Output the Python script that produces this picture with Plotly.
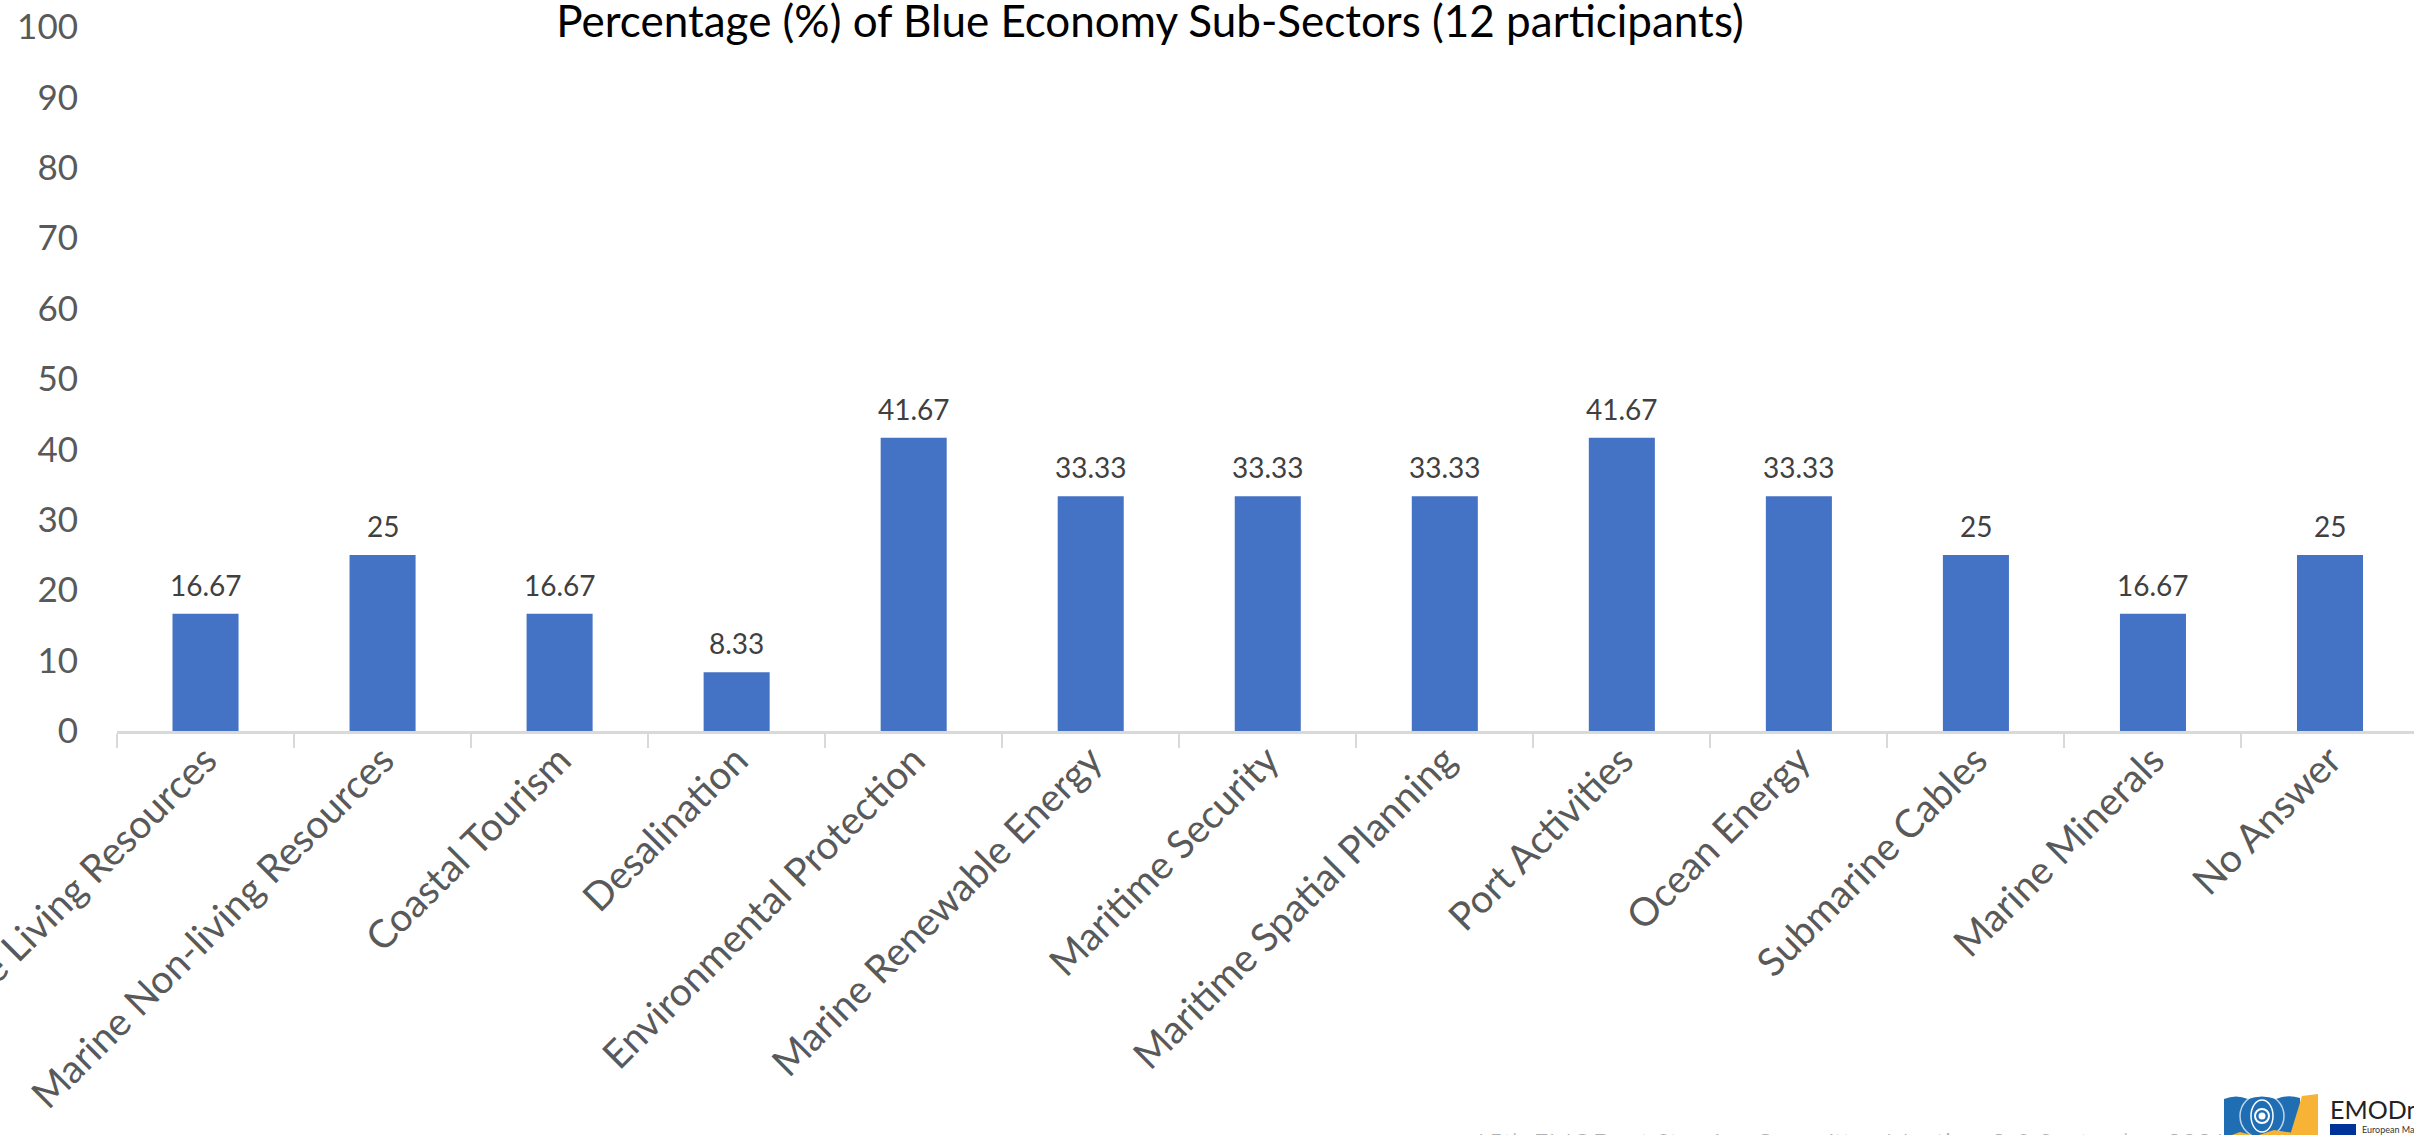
import base64
import plotly.graph_objects as go

# ---- data ----
categories = [
    "Marine Living Resources", "Marine Non-living Resources", "Coastal Tourism",
    "Desalination", "Environmental Protection", "Marine Renewable Energy",
    "Maritime Security", "Maritime Spatial Planning", "Port Activities",
    "Ocean Energy", "Submarine Cables", "Marine Minerals", "No Answer",
]
percentages = [16.67, 25, 16.67, 8.33, 41.67, 33.33, 33.33, 33.33, 41.67, 33.33, 25, 16.67, 25]
y_ticks = [0, 10, 20, 30, 40, 50, 60, 70, 80, 90, 100]
title_text = "Percentage (%) of Blue Economy Sub-Sectors (12 participants)"
footer_text = "15th EMODnet Steering Committee Meeting, 8-9 September 2021"

W, H = 2414, 1135
ML, MR, MT, MB = 117, 0, 27, 404
PW, PH = W - ML - MR, H - MT - MB


def px_x(px):
    return (px - ML) / PW


def px_y(py):
    return (H - MB - py) / PH


FONT = "Lato, 'Open Sans', sans-serif"
GREY = "#595959"

fig = go.Figure()
fig.add_trace(go.Bar(
    x=categories, y=percentages,
    marker=dict(color="#4472C4", line=dict(width=0)),
    hoverinfo="x+y",
))

# data labels
for c, v in zip(categories, percentages):
    fig.add_annotation(
        x=c, y=v, xref="x", yref="y", text=f"{v:g}", showarrow=False,
        yanchor="bottom", yshift=10,
        font=dict(family=FONT, size=28, color="#404040"),
    )

fig.update_layout(
    width=W, height=H,
    margin=dict(l=ML, r=MR, t=MT, b=MB, pad=0),
    plot_bgcolor="white", paper_bgcolor="white",
    showlegend=False,
    bargap=0.627,
    title=dict(
        text=title_text, x=1150 / W, xanchor="center", xref="container",
        y=1 - 22 / H, yanchor="middle", yref="container",
        font=dict(family=FONT, size=44, color="#000000"),
    ),
    xaxis=dict(
        range=[-0.5, -0.5 + PW / 177.04],
        showline=True, linecolor="#d9d9d9", linewidth=2.5,
        ticks="outside", tickson="boundaries", ticklen=14, tickcolor="#d9d9d9", tickwidth=2,
        tickangle=-45, automargin=False, showgrid=False, zeroline=False,
        ticklabelstandoff=-12,
        tickfont=dict(family=FONT, size=39, color=GREY),
    ),
    yaxis=dict(
        range=[0, 100], tickvals=y_ticks, ticktext=[str(t) for t in y_ticks],
        showline=False, showgrid=False, zeroline=False, ticks="",
        ticklabelstandoff=38, automargin=False,
        tickfont=dict(family=FONT, size=35, color=GREY),
    ),
)

# footer text (mostly cut at bottom edge, as in reference)
fig.add_annotation(
    x=px_x(1471), y=px_y(1124), xref="paper", yref="paper", xanchor="left", yanchor="top",
    text=footer_text, showarrow=False,
    font=dict(family=FONT, size=26, color="#b0b0b0", weight=300),
)

# EMODnet logo graphic
svg = """<svg xmlns='http://www.w3.org/2000/svg' width='110' height='48' viewBox='0 0 110 48'>
<path d='M2,5 Q14,0 26,5 Q40,0 54,5 Q66,0 78,4 L78,48 L2,48 Z' fill='#1f6eb4'/>
<ellipse cx='40' cy='22' rx='22' ry='22' fill='none' stroke='#ffffff' stroke-width='1.5' opacity='0.7'/>
<ellipse cx='40' cy='22' rx='11' ry='16' fill='none' stroke='#ffffff' stroke-width='1.5'/>
<circle cx='40' cy='22' r='7' fill='none' stroke='#ffffff' stroke-width='2'/>
<circle cx='40' cy='22' r='3.5' fill='#ffffff'/>
<path d='M2,44 L18,38 L34,42 L52,36 L78,40 L78,48 L2,48 Z' fill='#f6b335'/>
<path d='M80,2 L96,0 L96,48 L66,48 Z' fill='#f6b335'/>
</svg>"""
src = "data:image/svg+xml;base64," + base64.b64encode(svg.encode()).decode()
fig.add_layout_image(
    source=src, xref="paper", yref="paper", x=px_x(2222), y=px_y(1094),
    sizex=110 / PW, sizey=48 / PH, xanchor="left", yanchor="top", sizing="stretch", layer="above",
)
fig.add_annotation(
    x=px_x(2328), y=px_y(1092), xref="paper", yref="paper", xanchor="left", yanchor="top",
    text="EMODnet", showarrow=False, font=dict(family=FONT, size=25, color="#222222"),
)
fig.add_shape(type="rect", xref="paper", yref="paper",
              x0=px_x(2330), x1=px_x(2356), y0=px_y(1124), y1=px_y(1140),
              fillcolor="#003399", line=dict(width=0))
fig.add_annotation(
    x=px_x(2360), y=px_y(1122), xref="paper", yref="paper", xanchor="left", yanchor="top",
    text="European Marine", showarrow=False, font=dict(family=FONT, size=9, color="#333333"),
)

fig.write_html(
    "out.html",
    config={"displayModeBar": False},
    post_script="document.body.style.margin='0';document.body.style.overflow='hidden';",
)
